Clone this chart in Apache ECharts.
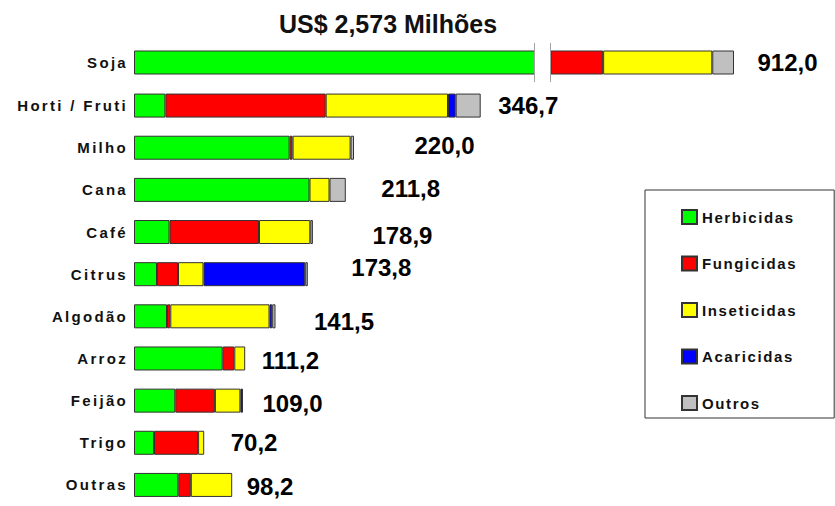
<!DOCTYPE html>
<html>
<head>
<meta charset="utf-8">
<script src="https://cdn.jsdelivr.net/npm/echarts@6/dist/echarts.min.js"></script>
<style>
  html, body { margin: 0; padding: 0; background: #fff; }
  #main { width: 835px; height: 506px; }
  /* espacamento entre letras como no slide original */
  #main text[text-anchor="end"] { letter-spacing: 2.3px; }
  #main text[text-anchor="start"][style*="15px"] { letter-spacing: 1.6px; }
</style>
</head>
<body>
<div id="main"></div>
<script>
// categorias e valores (US$ milhões)
var categories = ['Soja', 'Horti / Fruti', 'Milho', 'Cana', 'Café', 'Citrus', 'Algodão', 'Arroz', 'Feijão', 'Trigo', 'Outras'];
var herbicidas = [728.7, 31.4, 155.6, 175.5, 35.5, 23.0, 33.0, 88.7, 41.3, 20.0, 44.3];
var fungicidas = [52.6, 160.3, 3.0, 0, 89.5, 21.0, 3.3, 11.6, 39.6, 44.1, 12.5];
var inseticidas = [109.0, 122.3, 58.0, 20.0, 51.3, 25.5, 99.2, 10.9, 25.5, 6.1, 41.4];
var acaricidas = [0, 7.7, 0, 0, 0, 101.7, 2.7, 0, 2.6, 0, 0];
var outros = [21.7, 25.0, 3.4, 16.3, 2.6, 2.6, 3.3, 0, 0, 0, 0];
var totals = [912.0, 346.7, 220.0, 211.8, 178.9, 173.8, 141.5, 111.2, 109.0, 70.2, 98.2];

// deslocamento dos rotulos de total [dx, dy]
var labelOffsets = [[23, 0], [17, 0], [60, -2], [35, -1], [59, 3], [43, -7], [38, 5], [16, 2], [19, 3], [26, 0], [14, 2]];

var groups = [
    { name: 'Herbicidas', data: herbicidas, color: '#00FF00' },
    { name: 'Fungicidas', data: fungicidas, color: '#FF0000' },
    { name: 'Inseticidas', data: inseticidas, color: '#FFFF00' },
    { name: 'Acaricidas', data: acaricidas, color: '#0000FF' },
    { name: 'Outros', data: outros, color: '#C0C0C0' }
];

var font = 'Liberation Sans, Arial, sans-serif';

function fmt(v) {
    return v.toFixed(1).replace('.', ',');
}

var series = [];
// grid 0 = Soja (eixo com quebra), grid 1 = demais culturas
[0, 1].forEach(function (g) {
    var from = g === 0 ? 0 : 1;
    var to = g === 0 ? 1 : categories.length;
    groups.forEach(function (grp) {
        series.push({
            name: grp.name,
            type: 'bar',
            stack: 'total' + g,
            xAxisIndex: g,
            yAxisIndex: g,
            barWidth: 24,
            data: grp.data.slice(from, to).map(function (v) { return v > 0 ? v : '-'; }),
            itemStyle: {
                color: grp.color,
                borderColor: '#333',
                borderWidth: 1
            }
        });
    });
    series.push({
        type: 'scatter',
        xAxisIndex: g,
        yAxisIndex: g,
        symbolSize: 1,
        itemStyle: { color: 'rgba(0,0,0,0)' },
        silent: true,
        z: 10,
        data: totals.slice(from, to).map(function (v, i) {
            return {
                value: [v, categories[from + i]],
                label: { offset: labelOffsets[from + i] }
            };
        }),
        label: {
            show: true,
            position: 'right',
            distance: 0,
            formatter: function (p) { return fmt(p.value[0]); },
            fontFamily: font,
            fontWeight: 'bold',
            fontSize: 24,
            color: '#000',
            opacity: 1
        }
    });
});

var catLabel = {
    fontFamily: font,
    fontWeight: 'bold',
    fontSize: 15,
    color: '#111',
    margin: 6
};

var myChart = echarts.init(document.getElementById('main'), null, { renderer: 'svg' });
var option = {
    backgroundColor: '#fff',
    animation: false,
    title: {
        text: 'US$ 2,573 Milhões',
        left: 383,
        top: 6,
        textAlign: 'center',
        textStyle: {
            fontFamily: font,
            fontWeight: 'bold',
            fontSize: 25,
            color: '#111'
        }
    },
    legend: {
        orient: 'vertical',
        left: 645,
        top: 190,
        padding: [19, 53, 7, 36],
        itemGap: 30.5,
        itemWidth: 15,
        itemHeight: 14,
        borderColor: '#333',
        borderWidth: 1,
        icon: 'rect',
        data: groups.map(function (g) { return g.name; }),
        textStyle: {
            fontFamily: font,
            fontWeight: 'bold',
            fontSize: 15,
            color: '#111'
        }
    },
    grid: [
        { left: 134, width: 600, top: 43, height: 39 },
        { left: 134, width: 600, top: 84.5, height: 429 }
    ],
    xAxis: [{
        gridIndex: 0,
        type: 'value',
        min: 0,
        max: 912,
        breaks: [{ start: 400, end: 728.7, gap: 16 }],
        breakArea: {
            show: true,
            expandOnClick: false,
            zigzagAmplitude: 0,
            itemStyle: {
                color: '#fff',
                opacity: 1,
                borderColor: '#444',
                borderWidth: 1,
                borderType: 'solid'
            }
        },
        axisLabel: { show: false },
        axisTick: { show: false },
        axisLine: { show: false },
        splitLine: { show: false }
    }, {
        gridIndex: 1,
        type: 'value',
        min: 0,
        max: 600,
        axisLabel: { show: false },
        axisTick: { show: false },
        axisLine: { show: false },
        splitLine: { show: false }
    }],
    yAxis: [{
        gridIndex: 0,
        type: 'category',
        data: categories.slice(0, 1),
        axisTick: { show: false },
        axisLine: { show: false },
        axisLabel: catLabel
    }, {
        gridIndex: 1,
        type: 'category',
        inverse: true,
        data: categories.slice(1),
        axisTick: { show: false },
        axisLine: { show: false },
        axisLabel: catLabel
    }],
    series: series
};
myChart.setOption(option);
</script>
</body>
</html>
